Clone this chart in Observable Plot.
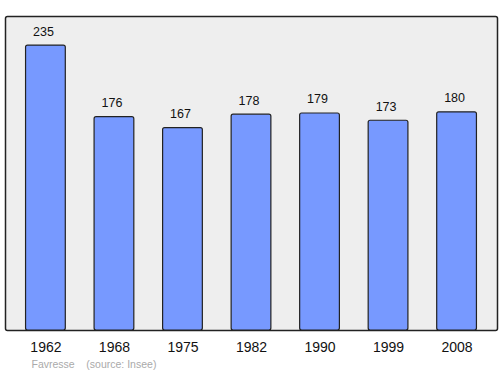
<!DOCTYPE html>
<html>
<head>
<meta charset="utf-8">
<script src="https://cdn.jsdelivr.net/npm/d3@7"></script>
<script src="https://cdn.jsdelivr.net/npm/@observablehq/plot@0.6"></script>
<style>
  html, body { margin: 0; padding: 0; background: #fff; }
  #chart svg { display: block; }
</style>
</head>
<body>
<div id="chart"></div>
<script>
const years = ["1962", "1968", "1975", "1982", "1990", "1999", "2008"];
const population = [235, 176, 167, 178, 179, 173, 180];
const captionText = "Favresse    (source: Insee)";

const data = years.map((y, i) => ({year: y, value: population[i]}));

const chart = Plot.plot({
  width: 500,
  height: 374,
  marginTop: 16,
  marginBottom: 44,
  marginLeft: 5,
  marginRight: 3,
  style: {fontFamily: "'Liberation Sans', Arial, sans-serif", background: "#fff"},
  x: {domain: years, paddingInner: 0.42, paddingOuter: 0.3, round: false, label: null},
  y: {domain: [0, 259], axis: null},
  marks: [
    Plot.frame({fill: "#eeeeee", stroke: "#222", strokeWidth: 1.5, rx: 2}),
    Plot.barY(data, {x: "year", y: "value", fill: "#7799ff", stroke: "#222", strokeWidth: 1.2, rx: 2}),
    Plot.text(data, {x: "year", y: "value", text: d => String(d.value), dy: -14, dx: -2.5, fontSize: 12.5, fill: "#111"}),
    Plot.axisX({tickSize: 0, tickPadding: 12, fontSize: 14, color: "#111", label: null}),
    Plot.text([captionText], {text: d => d, frameAnchor: "bottom-left", dx: 26, dy: 37, fontSize: 10.5, fill: "#aaaaaa", textAnchor: "start"})
  ]
});
chart.querySelectorAll("text").forEach(t => t.setAttribute("xml:space", "preserve"));
document.getElementById("chart").appendChild(chart);
</script>
</body>
</html>
